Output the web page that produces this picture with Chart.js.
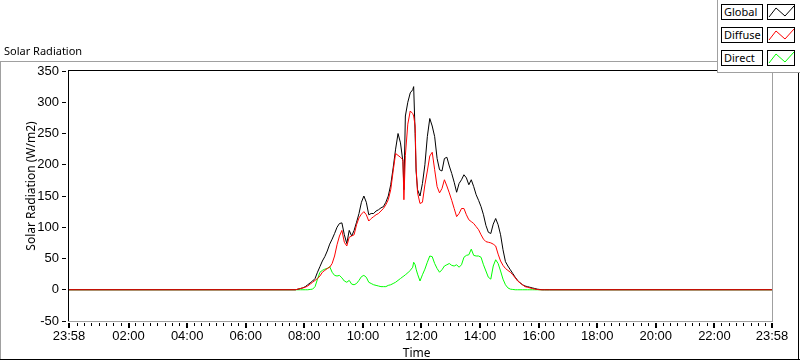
<!DOCTYPE html>
<html>
<head>
<meta charset="utf-8">
<title>Solar Radiation</title>
<script src="https://cdn.jsdelivr.net/npm/chart.js@4.4.1/dist/chart.umd.min.js"></script>
<style>
  html, body { margin:0; padding:0; background:#fff; }
  #stage { position:relative; width:800px; height:361px; overflow:hidden; background:#fff; }
  #chart { position:absolute; left:0; top:0; }
  .line { position:absolute; }
  .txt { position:absolute; font-family:"Noto Sans", sans-serif; color:#000; white-space:nowrap; }
  #legend { position:absolute; left:717px; top:0; width:83px; height:73px; box-sizing:border-box; background:#fff; border-left:1px solid #a0a0a0; border-bottom:1px solid #a0a0a0; }
  .lbl { position:absolute; left:3px; width:42px; height:16px; box-sizing:border-box; border:1px solid #000; font:11px/14px "Noto Sans", sans-serif; padding-left:2px; color:#000; white-space:nowrap; }
  .ico { position:absolute; left:49px; width:28px; height:16px; box-sizing:border-box; border:1px solid #000; background:#fff; }
  .ico svg { display:block; }
</style>
</head>
<body>
<div id="stage">
  <div class="line" style="left:0;top:61px;width:800px;height:1px;background:#a0a0a0"></div>
  <div class="line" style="left:0;top:61px;width:1px;height:299px;background:#a0a0a0"></div>
  <div class="line" style="left:0;top:359px;width:800px;height:1px;background:#000"></div>
  <div class="line" style="left:798px;top:61px;width:1px;height:299px;background:#000"></div>
  <canvas id="chart" width="800" height="361"></canvas>
  <div class="txt" style="left:4px;top:44px;font-size:11px;line-height:13px">Solar Radiation</div>
  <div class="txt" style="left:-39.5px;top:178px;width:140px;height:16px;font-size:12px;line-height:16px;text-align:center;transform:rotate(-90deg)">Solar Radiation (W/m2)</div>
  <div class="txt" style="left:386.7px;top:345px;width:60px;font-size:12px;line-height:16px;text-align:center">Time</div>
  <div id="legend">
    <div class="lbl" style="top:4px">Global</div>
    <div class="ico" style="top:4px"><svg width="26" height="14"><polyline points="1,12 8,3 17,11 26,1" fill="none" stroke="#000000" stroke-width="1"/></svg></div>
    <div class="lbl" style="top:27px">Diffuse</div>
    <div class="ico" style="top:27px"><svg width="26" height="14"><polyline points="1,12 8,3 17,11 26,1" fill="none" stroke="#ff0000" stroke-width="1"/></svg></div>
    <div class="lbl" style="top:50px">Direct</div>
    <div class="ico" style="top:50px"><svg width="26" height="14"><polyline points="1,12 8,3 17,11 26,1" fill="none" stroke="#00ff00" stroke-width="1"/></svg></div>
  </div>
</div>
<script>
// Time of each sample, in minutes since midnight (-2 = 23:58 of the previous day, 1438 = 23:58)
const timeMinutes = [
  -2,
  462,467,472,477,482,487,492,497,502,507,
  512,517,522,527,532,537,542,547,552,557,
  562,567,572,577,582,587,592,597,602,607,
  612,617,622,627,632,637,642,647,652,657,
  662,667,672,677,682,684,687,692,697,702,704,707,709,
  712,717,722,727,732,737,742,747,752,757,
  762,767,772,777,782,787,792,797,802,807,
  812,817,822,827,832,837,842,847,852,857,
  862,867,872,877,882,887,892,897,902,907,
  912,917,922,927,932,937,942,947,952,957,
  962,967,972,977,982,
  1438
];

const globalWm2 = [
  0,
  0,1,2,3,5,8,11,14,18,28,
  37,46,53,62,73,81,90,100,106,107,
  88,74,95,86,95,108,122,140,150,140,
  120,122,122,126,128,131,133,140,150,168,
  195,225,250,235,205,160,278,300,315,320,325,250,190,
  160,150,170,200,245,274,262,245,210,192,
  190,210,212,198,186,172,156,170,176,184,
  179,168,176,165,152,143,133,120,103,92,
  90,105,114,104,88,64,45,38,32,26,
  20,15,11,8,6,5,4,3,2,1,
  0.5,0,0,0,0,
  0
];

const diffuseWm2 = [
  0,
  0,1,2,3,4,6,9,12,15,18,
  22,28,31,34,36,42,54,72,86,95,
  76,70,84,86,88,104,115,121,125,120,
  110,114,117,120,122,126,130,136,144,160,
  190,218,215,212,208,144,215,265,286,282,278,262,195,
  155,138,140,168,190,214,220,192,165,155,
  162,176,166,155,143,130,117,122,130,130,
  120,112,109,106,101,96,88,81,77,76,
  75,73,70,57,46,39,34,31,28,24,
  19,14,11,8,5,4,3,2,1,0.5,
  0,0,0,0,0,
  0
];

const directWm2 = [
  0,
  0,0,0,0,0,0,0.5,1,5,17,
  28,31,33,34,37,28,23,22,23,19,
  14,12,15,9,8,10,15,21,23,20,
  12,10,8,7,6,5,5,5,7,8,
  10,12,15,18,21,22,24,27,31,36,44,40,33,
  25,14,24,33,44,54,53,42,34,28,
  32,38,40,42,39,38,40,36,40,52,
  55,56,65,55,54,54,52,40,30,20,
  17,38,48,42,30,17,8,3,1,0.5,
  0,0,0,0,0,0,0,0,0,0,
  0,0,0,0,0,
  0
];

const xMajorTicks = [-2,120,240,360,480,600,720,840,960,1080,1200,1320,1438];
const xTickLabels = ['23:58','02:00','04:00','06:00','08:00','10:00','12:00','14:00','16:00','18:00','20:00','22:00','23:58'];
const xMinorStep = 15;
const yTickValues = [-50,0,50,100,150,200,250,300,350];

const tickFont = { family: "'Liberation Sans Narrow', 'Liberation Sans', sans-serif", size: 13 };

function toPoints(values) {
  return timeMinutes.map((t, i) => ({ x: t, y: values[i] }));
}

const frameAndTicks = {
  id: 'frameAndTicks',
  afterDraw(chart) {
    const { ctx, chartArea: a, scales: { x, y } } = chart;
    ctx.save();
    // plot frame: dark top/left, light bottom/right
    ctx.fillStyle = '#000';
    ctx.fillRect(a.left - 1, a.top - 1, a.right - a.left + 2, 1);
    ctx.fillRect(a.left - 1, a.top - 1, 1, a.bottom - a.top + 1);
    ctx.fillStyle = '#a0a0a0';
    ctx.fillRect(a.left - 1, a.bottom, a.right - a.left + 2, 1);
    ctx.fillRect(a.right, a.top - 1, 1, a.bottom - a.top + 2);
    // y tick marks
    ctx.fillStyle = '#000';
    yTickValues.forEach(v => {
      const py = Math.round(y.getPixelForValue(v) - 0.5);
      ctx.fillRect(a.left - 7, py, 4, 1);
    });
    // x major ticks
    xMajorTicks.forEach(v => {
      const px = Math.round(x.getPixelForValue(v));
      ctx.fillRect(px - 1, a.bottom + 2, 2, 5);
    });
    // x minor ticks
    for (let m = xMinorStep; m < 1438; m += xMinorStep) {
      if (m % 120 === 0) continue;
      const px = Math.round(x.getPixelForValue(m) - 0.5);
      ctx.fillRect(px, a.bottom + 2, 1, 3);
    }
    ctx.restore();
  }
};

new Chart(document.getElementById('chart'), {
  type: 'line',
  data: {
    datasets: [
      { label: 'Global', data: toPoints(globalWm2), borderColor: '#000000', order: 1 },
      { label: 'Diffuse', data: toPoints(diffuseWm2), borderColor: '#ff0000', order: 0 },
      { label: 'Direct', data: toPoints(directWm2), borderColor: '#00ff00', order: 2 }
    ]
  },
  options: {
    responsive: false,
    animation: false,
    devicePixelRatio: 1,
    layout: { padding: { left: 0, top: 71, right: 28, bottom: 0 } },
    elements: { line: { borderWidth: 1, tension: 0, fill: false }, point: { radius: 0 } },
    plugins: { legend: { display: false }, tooltip: { enabled: false }, title: { display: false } },
    scales: {
      x: {
        type: 'linear', min: -2, max: 1438,
        grid: { display: false, drawTicks: false },
        border: { display: false },
        afterBuildTicks: s => { s.ticks = xMajorTicks.map(v => ({ value: v })); },
        afterFit: s => { s.height = 40; },
        ticks: { autoSkip: false, maxRotation: 0, padding: 8, color: '#000', font: tickFont,
                 callback: (v, i) => xTickLabels[i] }
      },
      y: {
        min: -50, max: 350,
        grid: { display: false, drawTicks: false },
        border: { display: false },
        afterFit: s => { s.width = 69; },
        ticks: { stepSize: 50, padding: 10, color: '#000', font: tickFont }
      }
    }
  },
  plugins: [frameAndTicks]
});
</script>
</body>
</html>
